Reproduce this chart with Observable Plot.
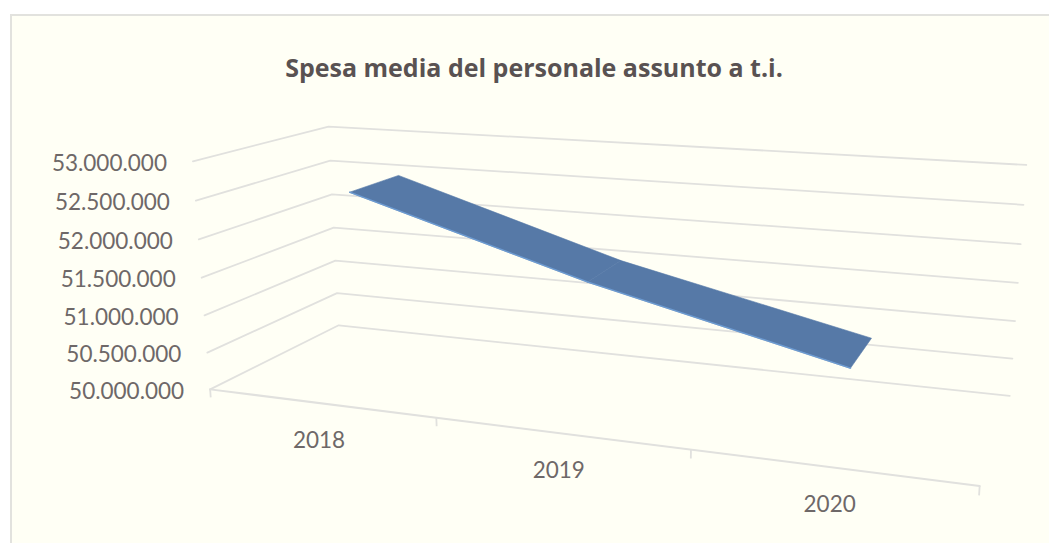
<!DOCTYPE html>
<html><head><meta charset="utf-8">
<script src="https://cdn.jsdelivr.net/npm/d3@7"></script>
<script src="https://cdn.jsdelivr.net/npm/@observablehq/plot@0.6"></script>
<style>html,body{margin:0;background:#fff;overflow:hidden}
#panel{position:absolute;left:10px;top:14px;width:1100px;height:600px;background:#fffff5;border:2px solid #e2e2de;box-sizing:border-box}
#title{position:absolute;left:0;top:50px;width:1068px;text-align:center;font:bold 25px "Open Sans";color:#595252;white-space:nowrap}
#chart{position:absolute;left:0;top:0}
#chart svg{background:transparent}
</style></head><body>
<div id="panel"></div><div id="title">Spesa media del personale assunto a t.i.</div><div id="chart"></div>
<script>
const years=["2018","2019","2020"];
const values=[52540000,51640000,50885000];
const valueTicks=[50000000,50500000,51000000,51500000,52000000,52500000,53000000];
const tickLabels=["50.000.000","50.500.000","51.000.000","51.500.000","52.000.000","52.500.000","53.000.000"];

// Camera of the 3D box: calibrated from where the box's corners fall on the page.
const frontL=[[210,389],[207,352],[204,315],[201,277],[198,239],[195.5,200],[192.5,161]];
const backL=[[338.5,325],[336,292.5],[334.5,260.5],[333,227],[332,194],[330,160],[328,126]];
const backR=[[1009.5,395],[1012,358],[1014.5,320.5],[1017,282.5],[1020,244],[1023,204],[1026,164.5]];
const anchors=[];
frontL.forEach((p,i)=>anchors.push([0,0,i/6,...p]));
backL.forEach((p,i)=>anchors.push([0,1,i/6,...p]));
backR.forEach((p,i)=>anchors.push([1,1,i/6,...p]));
anchors.push([1,0,0,979,486],[1/3,0,0,435.7,417],[2/3,0,0,690.7,449]);
function solve(A,b){const n=b.length;const M=A.map((r,i)=>[...r,b[i]]);
 for(let c=0;c<n;c++){let p=c;for(let r=c+1;r<n;r++)if(Math.abs(M[r][c])>Math.abs(M[p][c]))p=r;[M[c],M[p]]=[M[p],M[c]];
  for(let r=0;r<n;r++)if(r!==c){const f=M[r][c]/M[c][c];for(let k=c;k<=n;k++)M[r][k]-=f*M[c][k];}}
 return M.map((r,i)=>r[n]/r[i]);}
const rows=[],rhs=[];
for(const [u,v,w,x,y] of anchors){
 rows.push([u,v,w,1,0,0,0,0,-x*u,-x*v,-x*w]);rhs.push(x);
 rows.push([0,0,0,0,u,v,w,1,-y*u,-y*v,-y*w]);rhs.push(y);}
const ATA=Array.from({length:11},(_,i)=>Array.from({length:11},(_,j)=>d3.sum(rows,r=>r[i]*r[j])));
const ATb=Array.from({length:11},(_,i)=>d3.sum(rows,(r,k)=>r[i]*rhs[k]));
const P=solve(ATA,ATb);
const wOf=d3.scaleLinear([50000000,53000000],[0,1]);
const uOf=i=>(i+0.5)/years.length;
function proj(u,v,value){const w=wOf(value);const d=P[8]*u+P[9]*v+P[10]*w+1;
 return {x:(P[0]*u+P[1]*v+P[2]*w+P[3])/d,y:(P[4]*u+P[5]*v+P[6]*w+P[7])/d};}

const base=valueTicks[0];
const grid=valueTicks.flatMap(t=>[[0,0],[0,1],[1,1]].map(([u,v])=>({...proj(u,v,t),t})));
const floorFront=[proj(0,0,base),proj(1,0,base)];
const tickU=d3.range(years.length+1).map(i=>i/years.length);
const catTicks=tickU.map(u=>{const a=proj(u,0,base),b=proj(u,0,base-110000);return {x1:a.x,y1:a.y,x2:b.x,y2:b.y};});
const vFront=[0.30,0.29,0.29],vBack=[0.703,0.66,0.694];
const ribbon=[0,1].flatMap(s=>[
 proj(uOf(s),vFront[s],values[s]),proj(uOf(s),vBack[s],values[s]),
 proj(uOf(s+1),vBack[s+1],values[s+1]),proj(uOf(s+1),vFront[s+1],values[s+1])
].map(p=>({...p,s:String(s)})));
const frontEdge=values.map((val,i)=>proj(uOf(i),vFront[i],val));
const yLabels=valueTicks.map((t,i)=>({...proj(0,0,t),label:tickLabels[i]}));
const xLabels=years.map((label,i)=>({...proj(uOf(i),0,base),label}));

const plot=Plot.plot({
 width:1049,height:543,margin:0,
 x:{domain:[0,1049],range:[0,1049],axis:null},
 y:{domain:[0,543],range:[0,543],axis:null},
 style:{background:"transparent"},
 marks:[
  Plot.line(grid,{x:"x",y:"y",z:"t",stroke:"#e1e1de",strokeWidth:1.8}),
  Plot.line(floorFront,{x:"x",y:"y",stroke:"#e1e1de",strokeWidth:2}),
  Plot.link(catTicks,{x1:"x1",y1:"y1",x2:"x2",y2:"y2",stroke:"#e1e1de",strokeWidth:1.8}),
  Plot.line(ribbon,{x:"x",y:"y",z:"s",fill:"#5679a7",stroke:"#5679a7",strokeWidth:0.6,curve:"linear-closed"}),
  Plot.line(frontEdge,{x:"x",y:"y",stroke:"#6c9bd2",strokeWidth:1.4}),
  Plot.text(yLabels,{x:"x",y:"y",text:"label",textAnchor:"end",dx:-26,dy:2,fontFamily:"Lato",fontSize:22.5,fill:"#6e6868"}),
  Plot.text(xLabels,{x:"x",y:"y",text:"label",dy:38,dx:-1,fontFamily:"Lato",fontSize:22.5,fill:"#6e6868"})
 ]
});
document.getElementById("chart").append(plot);
</script></body></html>
